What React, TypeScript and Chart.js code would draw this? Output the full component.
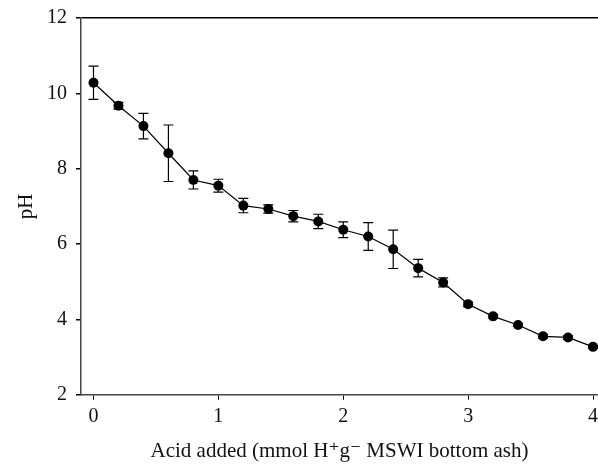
import React, { useEffect, useRef } from "react";
import { Chart, registerables } from "chart.js";

Chart.register(...registerables);

const acidAdded = [0, 0.2, 0.4, 0.6, 0.8, 1.0, 1.2, 1.4, 1.6, 1.8, 2.0, 2.2, 2.4, 2.6, 2.8, 3.0, 3.2, 3.4, 3.6, 3.8, 4.0];
const phValues = [10.28, 9.67, 9.13, 8.41, 7.7, 7.55, 7.02, 6.93, 6.74, 6.6, 6.38, 6.2, 5.86, 5.36, 4.98, 4.4, 4.08, 3.85, 3.55, 3.52, 3.27];
const phErrors = [0.44, 0.09, 0.34, 0.75, 0.24, 0.17, 0.19, 0.11, 0.15, 0.19, 0.21, 0.37, 0.51, 0.23, 0.12, 0.06, 0.05, 0.04, 0.05, 0.05, 0.04];
const xTicks = [0, 1, 2, 3, 4];
const yTicks = [2, 4, 6, 8, 10, 12];

const xTitle = "Acid added (mmol H\u207Ag\u207B MSWI bottom ash)";
const yTitle = "pH";

const FONT = "'Liberation Serif', 'DejaVu Serif', serif";

const errorBarPlugin = {
  id: "errorBars",
  afterDatasetsDraw(chart: any) {
    const { ctx, scales } = chart;
    const xs = scales.x;
    const ys = scales.y;
    ctx.save();
    ctx.strokeStyle = "#000";
    ctx.lineWidth = 1.2;
    const cap = 5;
    for (let i = 0; i < acidAdded.length; i++) {
      const px = xs.getPixelForValue(acidAdded[i]);
      const top = ys.getPixelForValue(phValues[i] + phErrors[i]);
      const bot = ys.getPixelForValue(phValues[i] - phErrors[i]);
      ctx.beginPath();
      ctx.moveTo(px, top);
      ctx.lineTo(px, bot);
      ctx.moveTo(px - cap, top);
      ctx.lineTo(px + cap, top);
      ctx.moveTo(px - cap, bot);
      ctx.lineTo(px + cap, bot);
      ctx.stroke();
    }
    ctx.restore();
  },
};

export default function App() {
  const ref = useRef<HTMLCanvasElement | null>(null);

  useEffect(() => {
    if (!ref.current) return;
    const chart = new Chart(ref.current, {
      type: "line",
      data: {
        datasets: [
          {
            label: "pH",
            data: acidAdded.map((x, i) => ({ x, y: phValues[i] })),
            borderColor: "#000",
            borderWidth: 1.2,
            backgroundColor: "#000",
            pointRadius: 5,
            pointBackgroundColor: "#000",
            pointBorderColor: "#000",
            pointBorderWidth: 0,
            tension: 0,
            fill: false,
            clip: false,
          },
        ],
      },
      options: {
        animation: false,
        responsive: false,
        devicePixelRatio: 1,
        layout: { autoPadding: false, padding: { top: 18, right: 0, bottom: 0, left: 0 } },
        plugins: {
          legend: { display: false },
          tooltip: { enabled: false },
        },
        scales: {
          x: {
            type: "linear",
            min: -0.1,
            max: 4.04,
            afterBuildTicks(scale: any) {
              scale.ticks = xTicks.map((v) => ({ value: v }));
            },
            afterFit(scale: any) {
              scale.height = 70.3;
              scale.paddingRight = 0;
              scale.paddingLeft = 0;
            },
            border: { display: true, color: "#444", width: 1.5 },
            grid: {
              display: true,
              drawOnChartArea: false,
              drawTicks: true,
              tickLength: 5,
              tickColor: "#000",
            },
            ticks: {
              color: "#111",
              padding: 5,
              font: { family: FONT, size: 20 },
            },
            title: {
              display: true,
              text: xTitle,
              color: "#111",
              font: { family: FONT, size: 21 },
              padding: { top: 0, bottom: 1 },
            },
          },
          y: {
            type: "linear",
            min: 2,
            max: 12,
            afterBuildTicks(scale: any) {
              scale.ticks = yTicks.map((v) => ({ value: v }));
            },
            afterFit(scale: any) {
              scale.width = 81;
              scale.paddingTop = 0;
              scale.paddingBottom = 0;
            },
            border: { display: true, color: "#444", width: 1.5 },
            grid: {
              display: true,
              drawOnChartArea: true,
              drawTicks: true,
              tickLength: 5,
              color: (c: any) => (c.tick && c.tick.value === 12 ? "#000" : "rgba(0,0,0,0)"),
              lineWidth: 1.5,
              tickColor: "#000",
            },
            ticks: {
              color: "#111",
              padding: 9,
              font: { family: FONT, size: 20 },
            },
            title: {
              display: true,
              text: yTitle,
              color: "#111",
              font: { family: FONT, size: 21 },
              padding: { top: 14, bottom: 0 },
            },
          },
        },
      },
      plugins: [errorBarPlugin],
    });
    return () => chart.destroy();
  }, []);

  return (
    <div style={{ position: "absolute", left: 0, top: 0, width: 598, height: 465, background: "#fff" }}>
      <canvas ref={ref} width={598} height={465} style={{ width: 598, height: 465, display: "block" }} />
    </div>
  );
}
